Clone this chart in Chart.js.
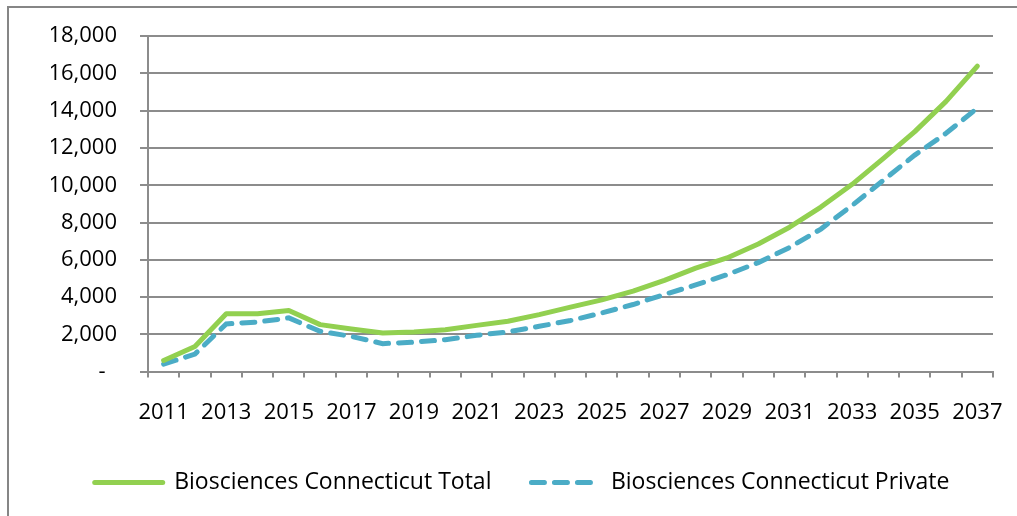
<!DOCTYPE html>
<html>
<head>
<meta charset="utf-8">
<script src="https://cdn.jsdelivr.net/npm/chart.js@4/dist/chart.umd.min.js"></script>
<style>
  body { margin: 0; background: #fff; }
  #wrap { position: relative; width: 1017px; height: 516px; overflow: hidden; }
  #frame { position: absolute; left: 7px; top: 6px; width: 1100px; height: 600px; border: 2px solid #868686; }
  canvas { position: absolute; left: 0; top: 0; }
</style>
</head>
<body>
<div id="wrap">
  <div id="frame"></div>
  <canvas id="chart" width="1017" height="516"></canvas>
</div>
<script>
const years = ['2011','2012','2013','2014','2015','2016','2017','2018','2019','2020','2021','2022','2023','2024',
  '2025','2026','2027','2028','2029','2030','2031','2032','2033','2034','2035','2036','2037'];
const totalJobs = [600, 1350, 3100, 3100, 3280, 2520, 2290, 2070, 2120, 2250, 2480, 2700, 3060, 3460,
  3850, 4320, 4900, 5550, 6100, 6850, 7750, 8830, 10050, 11440, 12880, 14500, 16390];
const privateJobs = [400, 940, 2560, 2660, 2880, 2160, 1890, 1500, 1580, 1710, 1950, 2130, 2430, 2740,
  3150, 3600, 4140, 4650, 5200, 5850, 6660, 7650, 8920, 10270, 11620, 12790, 14140];
const seriesNames = ['Biosciences Connecticut Total', 'Biosciences Connecticut Private'];

const gridGray = '#8c8c8c';
const font = { family: 'Open Sans', size: 22 };

const ctx = document.getElementById('chart').getContext('2d');
new Chart(ctx, {
  type: 'line',
  data: {
    labels: years,
    datasets: [{
      label: seriesNames[0],
      data: totalJobs,
      borderColor: '#92D050',
      backgroundColor: '#92D050',
      borderWidth: 5,
      pointRadius: 0,
      tension: 0,
      borderCapStyle: 'round',
      borderJoinStyle: 'round'
    }, {
      label: seriesNames[1],
      data: privateJobs,
      borderColor: '#4BACC6',
      backgroundColor: '#4BACC6',
      borderWidth: 5,
      borderDash: [13, 10],
      borderCapStyle: 'round',
      pointRadius: 0,
      tension: 0
    }]
  },
  options: {
    responsive: false,
    animation: false,
    devicePixelRatio: 1,
    layout: { padding: { top: 27, left: 51, right: 24, bottom: 12 } },
    plugins: {
      tooltip: { enabled: false },
      legend: {
        position: 'bottom',
        labels: {
          color: '#000',
          font: { family: 'Open Sans', size: 23 },
          usePointStyle: true,
          pointStyle: 'line',
          pointStyleWidth: 68,
          padding: 40,
          generateLabels: function (chart) {
            const items = Chart.defaults.plugins.legend.labels.generateLabels(chart);
            items.forEach(function (item) {
              const ds = chart.data.datasets[item.datasetIndex];
              item.lineDash = ds.borderDash || [];
              item.lineCap = ds.borderCapStyle || 'butt';
              item.lineWidth = 5;
            });
            return items;
          }
        }
      }
    },
    scales: {
      x: {
        offset: true,
        afterFit: function (scale) {
          scale.height = scale.height - 17;
          scale.paddingLeft = 0;
          scale.paddingRight = 0;
        },
        grid: { offset: true, drawOnChartArea: false, color: gridGray, lineWidth: 2, tickLength: 6 },
        border: { color: gridGray, width: 2 },
        ticks: {
          color: '#000',
          font: font,
          autoSkip: false,
          maxRotation: 0,
          padding: 22,
          callback: function (v, i) { return i % 2 === 0 ? years[i] : ''; }
        }
      },
      y: {
        min: 0,
        max: 18000,
        afterFit: function (scale) { scale.width = 97; },
        grid: { color: gridGray, lineWidth: 2, tickLength: 8 },
        border: { color: gridGray, width: 2 },
        ticks: {
          stepSize: 2000,
          color: '#000',
          font: font,
          padding: 23,
          callback: function (v) { return v === 0 ? '-  ' : v.toLocaleString('en-US'); }
        }
      }
    }
  }
});
</script>
</body>
</html>
